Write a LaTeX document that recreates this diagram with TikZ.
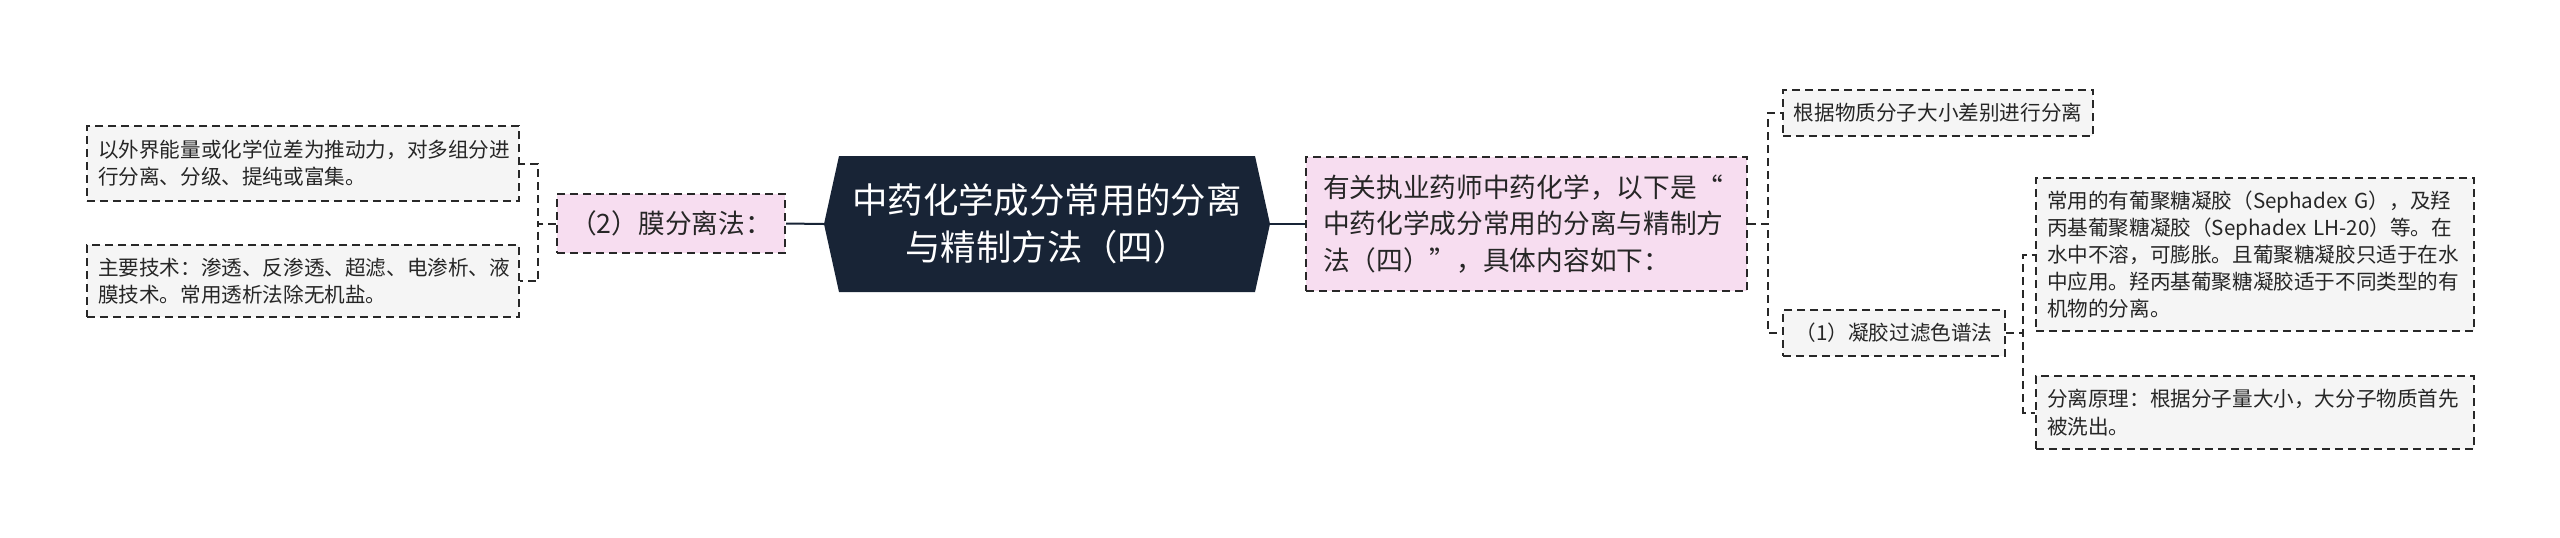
\documentclass[tikz,border=0pt]{standalone}
\usepackage{fontspec}
\setmainfont{Noto Sans CJK SC}
\usepackage{tikz}
\usetikzlibrary{backgrounds}
\definecolor{rootfill}{RGB}{24,36,54}
\definecolor{pinkfill}{RGB}{247,221,240}
\definecolor{greyfill}{RGB}{245,245,245}
\definecolor{edgecol}{RGB}{40,40,40}
\tikzset{every picture/.style={line width=1pt}}
\tikzset{
  box/.style={draw=edgecol, dash pattern=on 4pt off 2.5pt, rectangle, align=left, inner xsep=5.5pt, inner ysep=0pt, text=black!85},
  leaf/.style={box, fill=greyfill, font=\fontsize{10.3}{13.6}\selectfont},
  sub/.style={box, fill=pinkfill, font=\fontsize{13.35}{18.3}\selectfont},
  link/.style={draw=edgecol, dash pattern=on 4pt off 2.5pt},
  rootlink/.style={draw=rootfill}
}

\begin{document}
\begin{tikzpicture}[x=0.5pt, y=-0.5pt]
\useasboundingbox (0,0) rectangle (2560,537);

% central topic
\node[text=white, font=\fontsize{17.7}{23.5}\selectfont, align=center, minimum width=222pt, minimum height=67pt, inner sep=0pt] (root) at (1047,224) {中药化学成分常用的分离\\与精制方法（四）};
\begin{scope}[on background layer]
\fill[rootfill] ([xshift=7.5pt]root.north west) -- ([xshift=-7.5pt]root.north east) -- (root.east)
  -- ([xshift=-7.5pt]root.south east) -- ([xshift=7.5pt]root.south west) -- (root.west) -- cycle;
\end{scope}

% left branch
\node[sub, align=center, minimum width=114pt, minimum height=29.5pt] (mem) at (671,223.5) {（2）膜分离法：};
\node[leaf, text width=205pt, minimum height=37.5pt] (l1) at (303,163.5) {以外界能量或化学位差为推动力，对多组分进\\行分离、分级、提纯或富集。};
\node[leaf, text width=205pt, minimum height=36pt] (l2) at (303,281) {主要技术：渗透、反渗透、超滤、电渗析、液\\膜技术。常用透析法除无机盐。};

% right branch
\node[sub, inner xsep=8.5pt, text width=203.5pt, minimum height=67pt] (intro) at (1526.5,224) {有关执业药师中药化学，以下是“\\中药化学成分常用的分离与精制方\\法（四）”，具体内容如下：};
\node[leaf, minimum width=155pt, minimum height=23pt] (r1) at (1938,113) {根据物质分子大小差别进行分离};
\node[leaf, minimum width=111pt, minimum height=23pt] (gel) at (1894,333) {（1）凝胶过滤色谱法};
\node[leaf, text width=208pt, minimum height=76.5pt] (d1) at (2255,254.5) {常用的有葡聚糖凝胶（Sephadex~G），及羟\\丙基葡聚糖凝胶（Sephadex~LH-20）等。在\\水中不溶，可膨胀。且葡聚糖凝胶只适于在水\\中应用。羟丙基葡聚糖凝胶适于不同类型的有\\机物的分离。};
\node[leaf, text width=208pt, minimum height=36.5pt] (d2) at (2255,412.5) {分离原理：根据分子量大小，大分子物质首先\\被洗出。};

% connectors
\draw[rootlink] (mem.east) -- (root.west);
\draw[rootlink] (root.east) -- (intro.west);
\draw[link] (mem.west) -- ++(-18,0) |- (l1.east);
\draw[link] (mem.west) -- ++(-18,0) |- (l2.east);
\draw[link] (intro.east) -- ++(20,0) |- (r1.west);
\draw[link] (intro.east) -- ++(20,0) |- (gel.west);
\draw[link] (gel.east) -- ++(17,0) |- (d1.west);
\draw[link] (gel.east) -- ++(17,0) |- (d2.west);
\end{tikzpicture}
\end{document}
